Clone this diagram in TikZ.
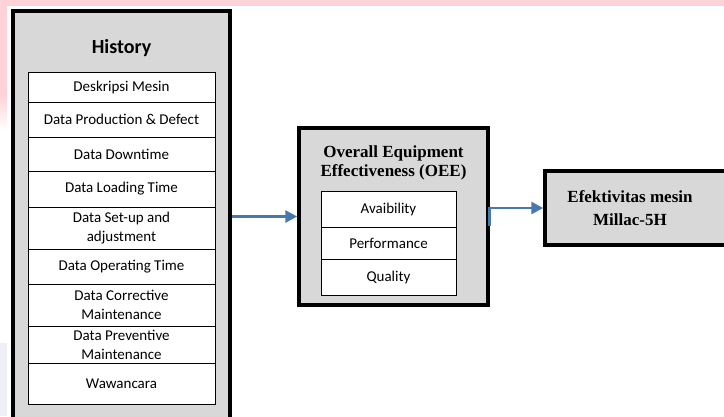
\documentclass[tikz,border=0pt]{standalone}
\usepackage{fontspec}
\setmainfont{Carlito}
\newfontfamily\serifb{Liberation Serif}
\usetikzlibrary{arrows.meta,calc}
\definecolor{pinkbg}{RGB}{255,210,216}
\definecolor{lavbg}{RGB}{239,239,247}
\definecolor{boxgray}{RGB}{216,216,216}
\definecolor{arrblue}{RGB}{70,120,175}
\tikzset{
  bigbox/.style={draw=black, line width=3.5pt, fill=boxgray, inner sep=0pt},
  cell/.style={draw=black, line width=1pt, fill=white, inner sep=0pt, align=center,
    font=\fontsize{15}{19}\selectfont},
  hcell/.style={cell, minimum width=187pt},
  ocell/.style={cell, minimum width=135pt},
  serift/.style={align=center, font=\serifb\bfseries\fontsize{17}{19}\selectfont, inner sep=0pt},
  arr/.style={draw=arrblue, line width=2.8pt, -{Triangle[length=12pt,width=12pt]}}
}
\begin{document}
\begin{tikzpicture}[x=1pt,y=-1pt]
\useasboundingbox (0,0) rectangle (724,416);
\clip (0,0) rectangle (724,416);
% background tints
\fill[pinkbg] (0,0) rectangle (724,6);
\fill[pinkbg] (0,0) rectangle (7,95);
\shade[top color=pinkbg, bottom color=white] (0,95) rectangle (7,130);
\fill[lavbg] (0,343) rectangle (7,416);

% History box
\node[bigbox, minimum width=217pt, minimum height=419pt] (hist) at (121.5,220.5) {};
\node[font=\bfseries\fontsize{20}{24}\selectfont, inner sep=0pt] (histtitle) at (121.5,48) {History};
\node[hcell, minimum height=30pt] (h1) at (121.5,87) {Deskripsi Mesin};
\node[hcell, minimum height=35pt] (h2) at (121.5,119.5) {Data Production \& Defect};
\node[hcell, minimum height=34pt] (h3) at (121.5,154) {Data Downtime};
\node[hcell, minimum height=36pt] (h4) at (121.5,189) {Data Loading Time};
\node[hcell, minimum height=42pt] (h5) at (121.5,228) {Data Set-up and\\adjustment};
\node[hcell, minimum height=35pt] (h6) at (121.5,266.5) {Data Operating Time};
\node[hcell, minimum height=42pt] (h7) at (121.5,305) {Data Corrective\\Maintenance};
\node[hcell, minimum height=37pt] (h8) at (121.5,344.5) {Data Preventive\\Maintenance};
\node[hcell, minimum height=41pt] (h9) at (121.5,383.5) {Wawancara};

% OEE box
\node[bigbox, minimum width=189pt, minimum height=177pt] (oee) at (393.5,216.5) {};
\node[serift] (oeetitle) at (393.5,163) {Overall Equipment\\Effectiveness (OEE)};
\node[ocell, minimum height=36pt] (o1) at (388.5,209) {Avaibility};
\node[ocell, minimum height=32pt] (o2) at (388.5,243) {Performance};
\node[ocell, minimum height=36pt] (o3) at (388.5,277) {Quality};

% Result box
\node[bigbox, minimum width=195pt, minimum height=74pt] (eff) at (642.5,208) {};
\node[serift, font=\serifb\bfseries\fontsize{17}{23}\selectfont] (efftext) at (630,208) {Efektivitas mesin\\Millac-5H};

% connectors
\draw[arr] (hist.east |- oee.west) -- (oee.west);
\draw[arr] ([yshift=-9.5pt]oee.east) |- (eff.west);
\end{tikzpicture}
\end{document}
